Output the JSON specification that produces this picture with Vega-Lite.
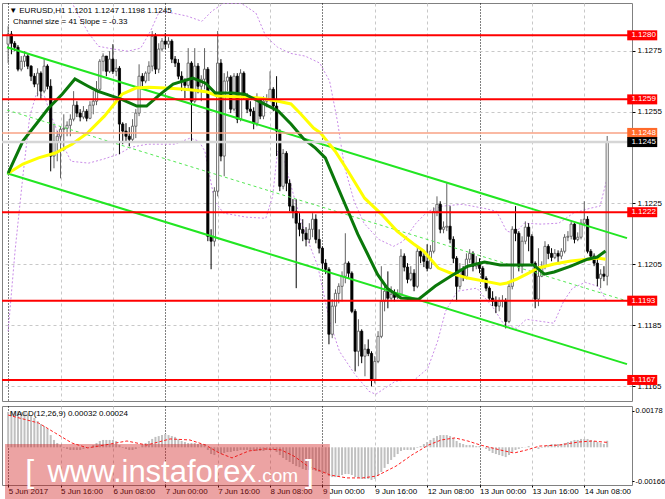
{
"$schema":"https://vega.github.io/schema/vega-lite/v6.json",
"padding":{"left":0,"top":2,"right":0,"bottom":0},
"background":"#ffffff",
"spacing":3,
"config":{"view":{"stroke":"#808080","strokeWidth":1},"font":"Liberation Sans","axis":{"labelFont":"Liberation Sans","labelFontSize":8,"labelColor":"#000000","tickColor":"#000000","domain":false,"title":null},"text":{"font":"Liberation Sans"}},
"datasets":{
"bars":[
{"i":0,"o":1.12771,"h":1.1283,"l":1.12709,"c":1.12804,"m":0.00173},
{"i":1,"o":1.12804,"h":1.12814,"l":1.12738,"c":1.12774,"m":0.00178},
{"i":2,"o":1.12774,"h":1.12781,"l":1.12748,"c":1.12761,"m":0.00178},
{"i":3,"o":1.12761,"h":1.12768,"l":1.12682,"c":1.12689,"m":0.00178},
{"i":4,"o":1.12689,"h":1.12732,"l":1.12682,"c":1.12715,"m":0.00173},
{"i":5,"o":1.12715,"h":1.12748,"l":1.12696,"c":1.12732,"m":0.00173},
{"i":6,"o":1.12732,"h":1.12738,"l":1.12689,"c":1.12699,"m":0.00168},
{"i":7,"o":1.12699,"h":1.12702,"l":1.1265,"c":1.12666,"m":0.00158},
{"i":8,"o":1.12666,"h":1.12676,"l":1.1263,"c":1.1264,"m":0.00144},
{"i":9,"o":1.1264,"h":1.12692,"l":1.126,"c":1.12676,"m":0.00129},
{"i":10,"o":1.12676,"h":1.12682,"l":1.12591,"c":1.12617,"m":0.00114},
{"i":11,"o":1.12617,"h":1.12725,"l":1.1261,"c":1.12699,"m":0.00104},
{"i":12,"o":1.12699,"h":1.12705,"l":1.12623,"c":1.12633,"m":0.0009},
{"i":13,"o":1.12633,"h":1.12656,"l":1.12354,"c":1.12404,"m":0.0006},
{"i":14,"o":1.12404,"h":1.12509,"l":1.12364,"c":1.12453,"m":0.00036},
{"i":15,"o":1.12453,"h":1.12486,"l":1.12387,"c":1.12469,"m":0.00021},
{"i":16,"o":1.12469,"h":1.12499,"l":1.12331,"c":1.12492,"m":0.00011},
{"i":17,"o":1.12492,"h":1.12541,"l":1.1242,"c":1.12495,"m":-0.00003},
{"i":18,"o":1.12495,"h":1.12518,"l":1.12469,"c":1.12505,"m":-0.00008},
{"i":19,"o":1.12505,"h":1.12541,"l":1.12469,"c":1.12525,"m":-0.00013},
{"i":20,"o":1.12525,"h":1.12617,"l":1.12518,"c":1.12571,"m":-0.00013},
{"i":21,"o":1.12571,"h":1.12584,"l":1.12532,"c":1.12545,"m":-0.00013},
{"i":22,"o":1.12545,"h":1.12558,"l":1.12518,"c":1.12532,"m":-0.00013},
{"i":23,"o":1.12532,"h":1.12568,"l":1.12525,"c":1.12551,"m":-0.00008},
{"i":24,"o":1.12551,"h":1.12558,"l":1.12518,"c":1.12528,"m":-0.00003},
{"i":25,"o":1.12528,"h":1.12584,"l":1.12525,"c":1.12571,"m":0.00001},
{"i":26,"o":1.12571,"h":1.12617,"l":1.12541,"c":1.12584,"m":0.00011},
{"i":27,"o":1.12584,"h":1.1265,"l":1.12571,"c":1.12623,"m":0.00021},
{"i":28,"o":1.12623,"h":1.12722,"l":1.1261,"c":1.12715,"m":0.00031},
{"i":29,"o":1.12715,"h":1.12741,"l":1.12682,"c":1.12732,"m":0.00036},
{"i":30,"o":1.12732,"h":1.12732,"l":1.12666,"c":1.12682,"m":0.00036},
{"i":31,"o":1.12682,"h":1.12748,"l":1.12676,"c":1.12722,"m":0.00036},
{"i":32,"o":1.12722,"h":1.12771,"l":1.12673,"c":1.12682,"m":0.00036},
{"i":33,"o":1.12682,"h":1.12722,"l":1.12666,"c":1.12692,"m":0.00031},
{"i":34,"o":1.12692,"h":1.12699,"l":1.1241,"c":1.12509,"m":0.00011},
{"i":35,"o":1.12509,"h":1.12515,"l":1.12443,"c":1.12486,"m":-0.00003},
{"i":36,"o":1.12486,"h":1.12512,"l":1.12453,"c":1.12469,"m":-0.00008},
{"i":37,"o":1.12469,"h":1.12499,"l":1.12436,"c":1.12459,"m":-0.00013},
{"i":38,"o":1.12459,"h":1.12525,"l":1.12453,"c":1.12502,"m":-0.00013},
{"i":39,"o":1.12502,"h":1.12558,"l":1.12463,"c":1.12545,"m":-0.00008},
{"i":40,"o":1.12545,"h":1.12705,"l":1.12535,"c":1.12666,"m":0.00001},
{"i":41,"o":1.12666,"h":1.12676,"l":1.12633,"c":1.1265,"m":0.00011},
{"i":42,"o":1.1265,"h":1.12682,"l":1.12643,"c":1.12676,"m":0.00021},
{"i":43,"o":1.12676,"h":1.12715,"l":1.1265,"c":1.12699,"m":0.00031},
{"i":44,"o":1.12699,"h":1.12814,"l":1.12682,"c":1.12797,"m":0.00041},
{"i":45,"o":1.12797,"h":1.12807,"l":1.12673,"c":1.12689,"m":0.00051},
{"i":46,"o":1.12689,"h":1.12774,"l":1.12676,"c":1.12755,"m":0.00055},
{"i":47,"o":1.12755,"h":1.12791,"l":1.12748,"c":1.12781,"m":0.0006},
{"i":48,"o":1.12781,"h":1.12807,"l":1.12755,"c":1.12771,"m":0.00065},
{"i":49,"o":1.12771,"h":1.12794,"l":1.12758,"c":1.12781,"m":0.0006},
{"i":50,"o":1.12781,"h":1.12787,"l":1.12709,"c":1.12722,"m":0.00055},
{"i":51,"o":1.12722,"h":1.12732,"l":1.12696,"c":1.12709,"m":0.00051},
{"i":52,"o":1.12709,"h":1.12722,"l":1.12656,"c":1.12666,"m":0.00041},
{"i":53,"o":1.12666,"h":1.12682,"l":1.12617,"c":1.1265,"m":0.00031},
{"i":54,"o":1.1265,"h":1.12659,"l":1.12594,"c":1.12636,"m":0.00026},
{"i":55,"o":1.12636,"h":1.12758,"l":1.12623,"c":1.12709,"m":0.00021},
{"i":56,"o":1.12709,"h":1.12715,"l":1.12453,"c":1.12584,"m":0.00021},
{"i":57,"o":1.12584,"h":1.12758,"l":1.12577,"c":1.12699,"m":0.00021},
{"i":58,"o":1.12699,"h":1.12709,"l":1.1261,"c":1.12633,"m":0.00016},
{"i":59,"o":1.12633,"h":1.12669,"l":1.12584,"c":1.12656,"m":0.00016},
{"i":60,"o":1.12656,"h":1.12758,"l":1.12623,"c":1.12689,"m":0.00016},
{"i":61,"o":1.12689,"h":1.12696,"l":1.12125,"c":1.12141,"m":-0.00013},
{"i":62,"o":1.12141,"h":1.12164,"l":1.12033,"c":1.12125,"m":-0.00033},
{"i":63,"o":1.12125,"h":1.12302,"l":1.12108,"c":1.12289,"m":-0.00038},
{"i":64,"o":1.12289,"h":1.12814,"l":1.12272,"c":1.12709,"m":-0.00023},
{"i":65,"o":1.12709,"h":1.12722,"l":1.12387,"c":1.12404,"m":-0.00033},
{"i":66,"o":1.12404,"h":1.12676,"l":1.12338,"c":1.1265,"m":-0.00028},
{"i":67,"o":1.1265,"h":1.12682,"l":1.12617,"c":1.12663,"m":-0.00023},
{"i":68,"o":1.12663,"h":1.12669,"l":1.12545,"c":1.12558,"m":-0.00023},
{"i":69,"o":1.12558,"h":1.12676,"l":1.12551,"c":1.12666,"m":-0.00018},
{"i":70,"o":1.12666,"h":1.12676,"l":1.12512,"c":1.12525,"m":-0.00018},
{"i":71,"o":1.12525,"h":1.12689,"l":1.12518,"c":1.12676,"m":-0.00013},
{"i":72,"o":1.12676,"h":1.12682,"l":1.12591,"c":1.126,"m":-0.00013},
{"i":73,"o":1.126,"h":1.1261,"l":1.12545,"c":1.12558,"m":-0.00013},
{"i":74,"o":1.12558,"h":1.12584,"l":1.12535,"c":1.12551,"m":-0.00013},
{"i":75,"o":1.12551,"h":1.12564,"l":1.12492,"c":1.12512,"m":-0.00018},
{"i":76,"o":1.12512,"h":1.1261,"l":1.12502,"c":1.12591,"m":-0.00018},
{"i":77,"o":1.12591,"h":1.12597,"l":1.12525,"c":1.12535,"m":-0.00018},
{"i":78,"o":1.12535,"h":1.126,"l":1.12525,"c":1.12584,"m":-0.00018},
{"i":79,"o":1.12584,"h":1.12607,"l":1.12564,"c":1.12591,"m":-0.00013},
{"i":80,"o":1.12591,"h":1.12682,"l":1.12584,"c":1.12623,"m":-0.00013},
{"i":81,"o":1.12623,"h":1.1263,"l":1.12551,"c":1.12568,"m":-0.00013},
{"i":82,"o":1.12568,"h":1.12666,"l":1.12404,"c":1.12486,"m":-0.00023},
{"i":83,"o":1.12486,"h":1.12492,"l":1.12289,"c":1.12305,"m":-0.00038},
{"i":84,"o":1.12305,"h":1.12427,"l":1.12295,"c":1.12413,"m":-0.00052},
{"i":85,"o":1.12413,"h":1.1242,"l":1.12289,"c":1.12315,"m":-0.00062},
{"i":86,"o":1.12315,"h":1.12328,"l":1.12223,"c":1.1224,"m":-0.00072},
{"i":87,"o":1.1224,"h":1.12263,"l":1.122,"c":1.12223,"m":-0.00082},
{"i":88,"o":1.12223,"h":1.12263,"l":1.11971,"c":1.12184,"m":-0.00092},
{"i":89,"o":1.12184,"h":1.12217,"l":1.12141,"c":1.12164,"m":-0.00097},
{"i":90,"o":1.12164,"h":1.12197,"l":1.12125,"c":1.12151,"m":-0.00106},
{"i":91,"o":1.12151,"h":1.12171,"l":1.12108,"c":1.12131,"m":-0.00111},
{"i":92,"o":1.12131,"h":1.12184,"l":1.12118,"c":1.12164,"m":-0.00111},
{"i":93,"o":1.12164,"h":1.12217,"l":1.12138,"c":1.12197,"m":-0.00111},
{"i":94,"o":1.12197,"h":1.12213,"l":1.12118,"c":1.12131,"m":-0.00116},
{"i":95,"o":1.12131,"h":1.12164,"l":1.12085,"c":1.12102,"m":-0.00121},
{"i":96,"o":1.12102,"h":1.12108,"l":1.12033,"c":1.12053,"m":-0.00126},
{"i":97,"o":1.12053,"h":1.12066,"l":1.12017,"c":1.12033,"m":-0.00126},
{"i":98,"o":1.12033,"h":1.1204,"l":1.11787,"c":1.1182,"m":-0.00141},
{"i":99,"o":1.1182,"h":1.11935,"l":1.11807,"c":1.11912,"m":-0.00146},
{"i":100,"o":1.11912,"h":1.11967,"l":1.11856,"c":1.11954,"m":-0.00146},
{"i":101,"o":1.11954,"h":1.11987,"l":1.11921,"c":1.11977,"m":-0.00141},
{"i":102,"o":1.11977,"h":1.12026,"l":1.11928,"c":1.1201,"m":-0.00136},
{"i":103,"o":1.1201,"h":1.12151,"l":1.11987,"c":1.12053,"m":-0.00131},
{"i":104,"o":1.12053,"h":1.12059,"l":1.12003,"c":1.1202,"m":-0.00131},
{"i":105,"o":1.1202,"h":1.12026,"l":1.11889,"c":1.11895,"m":-0.00136},
{"i":106,"o":1.11895,"h":1.11902,"l":1.11698,"c":1.11764,"m":-0.00146},
{"i":107,"o":1.11764,"h":1.11869,"l":1.11715,"c":1.1183,"m":-0.0015},
{"i":108,"o":1.1183,"h":1.11836,"l":1.11725,"c":1.11748,"m":-0.00155},
{"i":109,"o":1.11748,"h":1.11787,"l":1.11682,"c":1.11771,"m":-0.00155},
{"i":110,"o":1.11771,"h":1.11803,"l":1.11748,"c":1.11757,"m":-0.00155},
{"i":111,"o":1.11757,"h":1.11764,"l":1.11649,"c":1.11672,"m":-0.0016},
{"i":112,"o":1.11672,"h":1.11748,"l":1.11659,"c":1.11731,"m":-0.00155},
{"i":113,"o":1.11731,"h":1.1183,"l":1.11725,"c":1.11813,"m":-0.00141},
{"i":114,"o":1.11813,"h":1.12043,"l":1.11807,"c":1.11928,"m":-0.00121},
{"i":115,"o":1.11928,"h":1.11984,"l":1.11895,"c":1.11961,"m":-0.00101},
{"i":116,"o":1.11961,"h":1.12026,"l":1.11905,"c":1.11938,"m":-0.00082},
{"i":117,"o":1.11938,"h":1.11977,"l":1.11928,"c":1.11951,"m":-0.00062},
{"i":118,"o":1.11951,"h":1.11967,"l":1.11928,"c":1.11941,"m":-0.00048},
{"i":119,"o":1.11941,"h":1.11967,"l":1.11935,"c":1.11951,"m":-0.00033},
{"i":120,"o":1.11951,"h":1.12099,"l":1.11944,"c":1.12076,"m":-0.00018},
{"i":121,"o":1.12076,"h":1.12085,"l":1.12026,"c":1.1204,"m":-0.00013},
{"i":122,"o":1.1204,"h":1.12053,"l":1.11987,"c":1.12,"m":-0.00013},
{"i":123,"o":1.12,"h":1.12043,"l":1.11994,"c":1.1202,"m":-0.00013},
{"i":124,"o":1.1202,"h":1.12033,"l":1.11961,"c":1.11977,"m":-0.00013},
{"i":125,"o":1.11977,"h":1.12108,"l":1.11971,"c":1.12092,"m":-0.00003},
{"i":126,"o":1.12092,"h":1.12102,"l":1.12053,"c":1.12076,"m":0.00006},
{"i":127,"o":1.12076,"h":1.12085,"l":1.1204,"c":1.12059,"m":0.00016},
{"i":128,"o":1.12059,"h":1.12115,"l":1.12026,"c":1.12036,"m":0.00026},
{"i":129,"o":1.12036,"h":1.12112,"l":1.12033,"c":1.12092,"m":0.00036},
{"i":130,"o":1.12092,"h":1.12236,"l":1.12085,"c":1.12223,"m":0.00046},
{"i":131,"o":1.12223,"h":1.12272,"l":1.12207,"c":1.12246,"m":0.00055},
{"i":132,"o":1.12246,"h":1.12256,"l":1.12151,"c":1.12164,"m":0.0006},
{"i":133,"o":1.12164,"h":1.1219,"l":1.12151,"c":1.12171,"m":0.0006},
{"i":134,"o":1.12171,"h":1.12315,"l":1.12158,"c":1.12174,"m":0.0006},
{"i":135,"o":1.12174,"h":1.1224,"l":1.12118,"c":1.12131,"m":0.00055},
{"i":136,"o":1.12131,"h":1.12141,"l":1.12053,"c":1.12069,"m":0.00046},
{"i":137,"o":1.12069,"h":1.12076,"l":1.11928,"c":1.11977,"m":0.00031},
{"i":138,"o":1.11977,"h":1.12053,"l":1.11967,"c":1.12033,"m":0.00021},
{"i":139,"o":1.12033,"h":1.12043,"l":1.11994,"c":1.1201,"m":0.00016},
{"i":140,"o":1.1201,"h":1.12085,"l":1.12,"c":1.12066,"m":0.00011},
{"i":141,"o":1.12066,"h":1.12099,"l":1.12053,"c":1.12085,"m":0.00011},
{"i":142,"o":1.12085,"h":1.12092,"l":1.12026,"c":1.12043,"m":0.00011},
{"i":143,"o":1.12043,"h":1.12076,"l":1.12033,"c":1.12053,"m":0.00006},
{"i":144,"o":1.12053,"h":1.12069,"l":1.1202,"c":1.12036,"m":0.00006},
{"i":145,"o":1.12036,"h":1.12043,"l":1.11994,"c":1.12003,"m":0.00001},
{"i":146,"o":1.12003,"h":1.1201,"l":1.11961,"c":1.11971,"m":-0.00008},
{"i":147,"o":1.11971,"h":1.11977,"l":1.11928,"c":1.11938,"m":-0.00018},
{"i":148,"o":1.11938,"h":1.11961,"l":1.11912,"c":1.11928,"m":-0.00028},
{"i":149,"o":1.11928,"h":1.11944,"l":1.11889,"c":1.11912,"m":-0.00033},
{"i":150,"o":1.11912,"h":1.11941,"l":1.11895,"c":1.11928,"m":-0.00038},
{"i":151,"o":1.11928,"h":1.11948,"l":1.11908,"c":1.11931,"m":-0.00043},
{"i":152,"o":1.11931,"h":1.11938,"l":1.11839,"c":1.11862,"m":-0.00048},
{"i":153,"o":1.11862,"h":1.11994,"l":1.11856,"c":1.11977,"m":-0.00038},
{"i":154,"o":1.11977,"h":1.12174,"l":1.11967,"c":1.12164,"m":-0.00023},
{"i":155,"o":1.12164,"h":1.1224,"l":1.12125,"c":1.12151,"m":-0.00013},
{"i":156,"o":1.12151,"h":1.12158,"l":1.12026,"c":1.12043,"m":-0.00008},
{"i":157,"o":1.12043,"h":1.12141,"l":1.1202,"c":1.12125,"m":-0.00003},
{"i":158,"o":1.12125,"h":1.1219,"l":1.12115,"c":1.12171,"m":0.00001},
{"i":159,"o":1.12171,"h":1.12184,"l":1.12092,"c":1.12141,"m":0.00006},
{"i":160,"o":1.12141,"h":1.12148,"l":1.12043,"c":1.12053,"m":0.00001},
{"i":161,"o":1.12053,"h":1.12059,"l":1.11905,"c":1.11935,"m":-0.00003},
{"i":162,"o":1.11935,"h":1.12102,"l":1.11912,"c":1.1201,"m":-0.00008},
{"i":163,"o":1.1201,"h":1.12059,"l":1.12007,"c":1.12043,"m":-0.00003},
{"i":164,"o":1.12043,"h":1.12125,"l":1.12033,"c":1.12108,"m":0.00006},
{"i":165,"o":1.12108,"h":1.12115,"l":1.12066,"c":1.12085,"m":0.00011},
{"i":166,"o":1.12085,"h":1.12102,"l":1.12059,"c":1.12072,"m":0.00016},
{"i":167,"o":1.12072,"h":1.12099,"l":1.12066,"c":1.12085,"m":0.00016},
{"i":168,"o":1.12085,"h":1.12095,"l":1.12056,"c":1.12076,"m":0.00016},
{"i":169,"o":1.12076,"h":1.12102,"l":1.12066,"c":1.12092,"m":0.00016},
{"i":170,"o":1.12092,"h":1.12148,"l":1.12085,"c":1.12138,"m":0.00021},
{"i":171,"o":1.12138,"h":1.12158,"l":1.12125,"c":1.12141,"m":0.00026},
{"i":172,"o":1.12141,"h":1.1219,"l":1.12131,"c":1.12181,"m":0.00031},
{"i":173,"o":1.12181,"h":1.12184,"l":1.12118,"c":1.12131,"m":0.00036},
{"i":174,"o":1.12131,"h":1.12154,"l":1.12125,"c":1.12138,"m":0.00036},
{"i":175,"o":1.12138,"h":1.12197,"l":1.12131,"c":1.12184,"m":0.00041},
{"i":176,"o":1.12184,"h":1.12256,"l":1.12174,"c":1.12197,"m":0.00041},
{"i":177,"o":1.12197,"h":1.12207,"l":1.12085,"c":1.12092,"m":0.00041},
{"i":178,"o":1.12092,"h":1.12099,"l":1.12066,"c":1.12076,"m":0.00036},
{"i":179,"o":1.12076,"h":1.12085,"l":1.12043,"c":1.12053,"m":0.00031},
{"i":180,"o":1.12053,"h":1.12066,"l":1.11977,"c":1.12003,"m":0.00026},
{"i":181,"o":1.12003,"h":1.12033,"l":1.11971,"c":1.12017,"m":0.00021},
{"i":182,"o":1.12017,"h":1.12043,"l":1.11994,"c":1.1201,"m":0.00016},
{"i":183,"o":1.1201,"h":1.1247,"l":1.1198,"c":1.1245,"m":0.00032}
],
"ma":[
{"k":"y","i":0,"p":1.12348},{"k":"y","i":4.5,"p":1.12378},{"k":"y","i":9.3,"p":1.12398},{"k":"y","i":14.4,"p":1.12414},{"k":"y","i":19.5,"p":1.12443},{"k":"y","i":24.3,"p":1.1248},{"k":"y","i":29.4,"p":1.12535},{"k":"y","i":34.8,"p":1.12607},{"k":"y","i":39,"p":1.12627},{"k":"y","i":42.9,"p":1.1263},{"k":"y","i":48,"p":1.12627},{"k":"y","i":52.8,"p":1.12624},{"k":"y","i":57,"p":1.1262},{"k":"y","i":60.9,"p":1.12614},{"k":"y","i":63.9,"p":1.12601},{"k":"y","i":72.3,"p":1.12598},{"k":"y","i":77.4,"p":1.12594},{"k":"y","i":82.5,"p":1.12584},{"k":"y","i":86.4,"p":1.12575},{"k":"y","i":89.4,"p":1.12542},{"k":"y","i":93.3,"p":1.12496},{"k":"y","i":95.4,"p":1.1248},{"k":"y","i":99.9,"p":1.1242},{"k":"y","i":103.8,"p":1.12355},{"k":"y","i":108.9,"p":1.12266},{"k":"y","i":114,"p":1.12214},{"k":"y","i":118.8,"p":1.12158},{"k":"y","i":123.9,"p":1.12116},{"k":"y","i":126.9,"p":1.12093},{"k":"y","i":131.4,"p":1.12037},{"k":"y","i":135.3,"p":1.1202},{"k":"y","i":140.4,"p":1.12004},{"k":"y","i":145.5,"p":1.11994},{"k":"y","i":150.3,"p":1.11984},{"k":"y","i":152.4,"p":1.11988},{"k":"y","i":155.4,"p":1.12001},{"k":"y","i":158.4,"p":1.12017},{"k":"y","i":162,"p":1.12037},{"k":"y","i":166.8,"p":1.1205},{"k":"y","i":171.9,"p":1.1206},{"k":"y","i":177,"p":1.12066},{"k":"y","i":180,"p":1.1207},{"k":"y","i":182.5,"p":1.12066},
{"k":"g","i":0,"p":1.12348},{"k":"g","i":4.5,"p":1.12453},{"k":"g","i":9.3,"p":1.12519},{"k":"g","i":12.3,"p":1.12561},{"k":"g","i":16.5,"p":1.12607},{"k":"g","i":20.4,"p":1.12657},{"k":"g","i":24.3,"p":1.12634},{"k":"g","i":27.3,"p":1.12617},{"k":"g","i":34.5,"p":1.12591},{"k":"g","i":39.3,"p":1.12568},{"k":"g","i":42.3,"p":1.12568},{"k":"g","i":46.5,"p":1.12607},{"k":"g","i":50.4,"p":1.1264},{"k":"g","i":56.4,"p":1.1266},{"k":"g","i":60.3,"p":1.12643},{"k":"g","i":63.3,"p":1.12611},{"k":"g","i":68.4,"p":1.12611},{"k":"g","i":72.3,"p":1.12607},{"k":"g","i":76.5,"p":1.12584},{"k":"g","i":82.5,"p":1.12552},{"k":"g","i":86.4,"p":1.12509},{"k":"g","i":90.3,"p":1.1246},{"k":"g","i":93.9,"p":1.1243},{"k":"g","i":96.9,"p":1.12398},{"k":"g","i":99.9,"p":1.12322},{"k":"g","i":103.8,"p":1.12224},{"k":"g","i":106.8,"p":1.12148},{"k":"g","i":109.8,"p":1.12083},{"k":"g","i":112.8,"p":1.12017},{"k":"g","i":115.8,"p":1.11971},{"k":"g","i":120,"p":1.11939},{"k":"g","i":125.4,"p":1.11935},{"k":"g","i":130.5,"p":1.11978},{"k":"g","i":135.3,"p":1.12011},{"k":"g","i":140.4,"p":1.12043},{"k":"g","i":145.5,"p":1.12057},{"k":"g","i":150.3,"p":1.12047},{"k":"g","i":155.4,"p":1.12047},{"k":"g","i":160.5,"p":1.12047},{"k":"g","i":163.8,"p":1.12017},{"k":"g","i":166.8,"p":1.12024},{"k":"g","i":171.9,"p":1.12043},{"k":"g","i":177,"p":1.12066},{"k":"g","i":180,"p":1.12073},{"k":"g","i":182.5,"p":1.12093}
],
"bands":[
{"b":"u","i":17.7,"p":1.12945},{"b":"u","i":21.6,"p":1.12863},{"b":"u","i":24.6,"p":1.12807},{"b":"u","i":27.6,"p":1.12764},{"b":"u","i":32.1,"p":1.12755},{"b":"u","i":36.6,"p":1.12748},{"b":"u","i":40.5,"p":1.12758},{"b":"u","i":43.5,"p":1.12814},{"b":"u","i":46.2,"p":1.12879},{"b":"u","i":50.2,"p":1.12873},{"b":"u","i":54.7,"p":1.12863},{"b":"u","i":59.2,"p":1.12846},{"b":"u","i":62.2,"p":1.12879},{"b":"u","i":65.8,"p":1.12905},{"b":"u","i":71.2,"p":1.12905},{"b":"u","i":75.7,"p":1.12873},{"b":"u","i":78.7,"p":1.12797},{"b":"u","i":82.3,"p":1.12761},{"b":"u","i":86.2,"p":1.12741},{"b":"u","i":90.7,"p":1.12732},{"b":"u","i":95.2,"p":1.12709},{"b":"u","i":98.2,"p":1.1265},{"b":"u","i":100.6,"p":1.12518},{"b":"u","i":102.7,"p":1.12371},{"b":"u","i":105.7,"p":1.12256},{"b":"u","i":108.7,"p":1.12184},{"b":"u","i":113.2,"p":1.12131},{"b":"u","i":117.7,"p":1.12108},{"b":"u","i":120.7,"p":1.12125},{"b":"u","i":124.6,"p":1.12184},{"b":"u","i":128.2,"p":1.12223},{"b":"u","i":132.7,"p":1.1224},{"b":"u","i":138.7,"p":1.12246},{"b":"u","i":145.3,"p":1.12233},{"b":"u","i":149.2,"p":1.12223},{"b":"u","i":152.3,"p":1.12158},{"b":"u","i":154.7,"p":1.12151},{"b":"u","i":157.7,"p":1.12184},{"b":"u","i":162.8,"p":1.12181},{"b":"u","i":168.2,"p":1.12184},{"b":"u","i":172.7,"p":1.12217},{"b":"u","i":177.8,"p":1.12233},{"b":"u","i":180.8,"p":1.1224},{"b":"u","i":182.9,"p":1.12328},
{"b":"l","i":0,"p":1.1183},{"b":"l","i":2.1,"p":1.12092},{"b":"l","i":4.5,"p":1.12338},{"b":"l","i":6.6,"p":1.12535},{"b":"l","i":8.7,"p":1.1261},{"b":"l","i":11.1,"p":1.126},{"b":"l","i":13.2,"p":1.12535},{"b":"l","i":16.2,"p":1.12453},{"b":"l","i":19.2,"p":1.12387},{"b":"l","i":24.6,"p":1.12381},{"b":"l","i":29.1,"p":1.12394},{"b":"l","i":33.6,"p":1.1241},{"b":"l","i":37.5,"p":1.12433},{"b":"l","i":42.6,"p":1.12443},{"b":"l","i":50.8,"p":1.12443},{"b":"l","i":55.6,"p":1.12463},{"b":"l","i":58.3,"p":1.12453},{"b":"l","i":60.1,"p":1.1242},{"b":"l","i":61.6,"p":1.12338},{"b":"l","i":63.1,"p":1.12256},{"b":"l","i":65.8,"p":1.12217},{"b":"l","i":72.7,"p":1.12204},{"b":"l","i":78.7,"p":1.122},{"b":"l","i":80.8,"p":1.12272},{"b":"l","i":82.3,"p":1.1242},{"b":"l","i":84.4,"p":1.12387},{"b":"l","i":87.7,"p":1.12256},{"b":"l","i":90.7,"p":1.12151},{"b":"l","i":94.6,"p":1.12043},{"b":"l","i":98.2,"p":1.11862},{"b":"l","i":101.2,"p":1.11764},{"b":"l","i":105.7,"p":1.11692},{"b":"l","i":110.2,"p":1.11633},{"b":"l","i":112.3,"p":1.11623},{"b":"l","i":118.3,"p":1.11666},{"b":"l","i":124.3,"p":1.11672},{"b":"l","i":128.2,"p":1.11708},{"b":"l","i":131.2,"p":1.11797},{"b":"l","i":133.6,"p":1.11895},{"b":"l","i":137.2,"p":1.11961},{"b":"l","i":143.2,"p":1.11971},{"b":"l","i":148.3,"p":1.11905},{"b":"l","i":151.4,"p":1.11853},{"b":"l","i":155.3,"p":1.11839},{"b":"l","i":158.3,"p":1.11869},{"b":"l","i":162.8,"p":1.11862},{"b":"l","i":166.7,"p":1.11856},{"b":"l","i":169.7,"p":1.11928},{"b":"l","i":172.4,"p":1.11971},{"b":"l","i":176.3,"p":1.1199},{"b":"l","i":180.2,"p":1.11977},{"b":"l","i":182.9,"p":1.11928}
],
"channel":[
{"ln":"up","i":-0.35,"p":1.12761},{"ln":"up","i":189.05,"p":1.12135},
{"ln":"lo","i":-0.35,"p":1.12348},{"ln":"lo","i":189.05,"p":1.11722},
{"ln":"mid","i":-0.35,"p":1.12555},{"ln":"mid","i":189.05,"p":1.11929}
],
"levels":[
{"p":1.128,"t":"1.1280","k":"r"},{"p":1.1259,"t":"1.1259","k":"r"},{"p":1.1222,"t":"1.1222","k":"r"},{"p":1.1193,"t":"1.1193","k":"r"},{"p":1.1167,"t":"1.1167","k":"r"},{"p":1.1248,"t":"1.1248","k":"o"},{"p":1.1245,"t":"1.1245","k":"b"}
],
"signal":[
{"i":0,"s":0.00158},{"i":9.3,"s":0.00119},{"i":14.4,"s":0.0007},{"i":19.5,"s":0.00021},{"i":24.3,"s":-0.00003},{"i":29.4,"s":0.00011},{"i":36.3,"s":0.00031},{"i":42.3,"s":0.00011},{"i":49.5,"s":0.00041},{"i":55.5,"s":0.00036},{"i":60.3,"s":0.00011},{"i":64.5,"s":-0.00028},{"i":68.4,"s":-0.00052},{"i":73.5,"s":-0.00018},{"i":78.3,"s":-0.00008},{"i":83.4,"s":-0.00013},{"i":87.3,"s":-0.00043},{"i":91.5,"s":-0.00092},{"i":95.4,"s":-0.00116},{"i":98.4,"s":-0.00136},{"i":103.5,"s":-0.0015},{"i":108.3,"s":-0.0015},{"i":112.5,"s":-0.00141},{"i":118.5,"s":-0.00092},{"i":123.3,"s":-0.00038},{"i":128.4,"s":0.00011},{"i":132.3,"s":0.00036},{"i":136.5,"s":0.00046},{"i":140.4,"s":0.00031},{"i":144.3,"s":0.00011},{"i":150.3,"s":-0.00013},{"i":154.5,"s":-0.00028},{"i":158.4,"s":-0.00013},{"i":162.3,"s":0.00006},{"i":168.3,"s":0.00011},{"i":174.3,"s":0.00026},{"i":178.5,"s":0.00031},{"i":183,"s":0.00024}
]
},
"vconcat":[
{
"width":630,"height":398,
"layer":[
{"data":{"name":"bands"},"mark":{"type":"line","clip":true,"strokeDash":[2,2],"strokeWidth":1,"color":"#c98be8"},
 "encoding":{
  "x":{"field":"i","type":"quantitative","scale":{"domain":[-0.35,189.05],"nice":false,"zero":false},
   "axis":{"orient":"bottom","values":[0,8,16,24,32,40,48,56,64,72,80,88,96,104,112,120,128,136,144,152,160,168,176,184],"labels":false,"ticks":false,"domain":false,"grid":true,"gridColor":{"condition":{"test":"datum.value % 24 === 0","value":"#000000"},"value":"#c8c8c8"},"gridDash":{"condition":{"test":"datum.value % 24 === 0","value":[1,2]},"value":[3,3]},"minExtent":0,"maxExtent":0,"title":null}},
  "y":{"field":"p","type":"quantitative","scale":{"domain":[1.11601,1.12906],"nice":false,"zero":false},
   "axis":{"orient":"right","values":[1.1165,1.1175,1.1185,1.1195,1.1205,1.1215,1.1225,1.1235,1.1255,1.1265,1.1275,1.1285],"format":".4f","grid":true,"gridColor":"#c8c8c8","gridDash":[3,3],"tickSize":3,"labelPadding":2,"labelBaseline":"middle","title":null}},
  "detail":{"field":"b","type":"nominal"}}},
{"data":{"name":"bars"},"mark":{"type":"rule","clip":true,"strokeWidth":1},
 "encoding":{"x":{"field":"i","type":"quantitative"},"y":{"field":"l","type":"quantitative"},"y2":{"field":"h"},
  "color":{"condition":{"test":"datum.c >= datum.o","value":"#606060"},"value":"#000000"}}},
{"data":{"name":"bars"},"mark":{"type":"bar","clip":true,"width":2.2,"strokeWidth":0.8},
 "encoding":{"x":{"field":"i","type":"quantitative"},"y":{"field":"o","type":"quantitative"},"y2":{"field":"c"},
  "fill":{"condition":{"test":"datum.c >= datum.o","value":"#ffffff"},"value":"#000000"},
  "stroke":{"condition":{"test":"datum.c >= datum.o","value":"#505050"},"value":"#000000"}}},
{"data":{"name":"channel"},"transform":[{"filter":"datum.ln === 'mid'"}],"mark":{"type":"line","clip":true,"strokeWidth":1,"strokeDash":[3,3],"color":"#55e855"},
 "encoding":{"x":{"field":"i","type":"quantitative"},"y":{"field":"p","type":"quantitative"}}},
{"data":{"name":"channel"},"transform":[{"filter":"datum.ln !== 'mid'"}],"mark":{"type":"line","clip":true,"strokeWidth":2,"color":"#22e622"},
 "encoding":{"x":{"field":"i","type":"quantitative"},"y":{"field":"p","type":"quantitative"},"detail":{"field":"ln","type":"nominal"}}},
{"data":{"name":"ma"},"transform":[{"filter":"datum.k === 'y'"}],"mark":{"type":"line","clip":true,"strokeWidth":3,"color":"#ffff00"},
 "encoding":{"x":{"field":"i","type":"quantitative"},"y":{"field":"p","type":"quantitative"}}},
{"data":{"name":"ma"},"transform":[{"filter":"datum.k === 'g'"}],"mark":{"type":"line","clip":true,"strokeWidth":3,"color":"#0a780a"},
 "encoding":{"x":{"field":"i","type":"quantitative"},"y":{"field":"p","type":"quantitative"}}},
{"data":{"name":"levels"},"transform":[{"filter":"datum.k === 'b'"}],"mark":{"type":"rule","strokeWidth":2.5,"color":"#d6d6d6"},
 "encoding":{"y":{"field":"p","type":"quantitative"}}},
{"data":{"name":"levels"},"transform":[{"filter":"datum.k === 'o'"}],"mark":{"type":"rule","strokeWidth":1.5,"color":"#f8a285"},
 "encoding":{"y":{"field":"p","type":"quantitative"}}},
{"data":{"name":"levels"},"transform":[{"filter":"datum.k === 'r'"}],"mark":{"type":"rule","strokeWidth":2,"color":"#ff0000"},
 "encoding":{"y":{"field":"p","type":"quantitative"}}},
{"data":{"name":"levels"},"mark":{"type":"tick","orient":"horizontal","size":30,"thickness":10,"clip":false,"opacity":1},
 "encoding":{"x":{"datum":193.7,"type":"quantitative"},"y":{"field":"p","type":"quantitative"},
  "color":{"field":"k","type":"nominal","scale":{"domain":["r","o","b"],"range":["#ff0000","#ff6a2b","#000000"]},"legend":null}}},
{"data":{"name":"levels"},"mark":{"type":"text","align":"left","baseline":"middle","fontSize":8,"color":"#ffffff","clip":false},
 "encoding":{"x":{"datum":190.4,"type":"quantitative"},"y":{"field":"p","type":"quantitative"},"text":{"field":"t"}}},
{"data":{"values":[{"t":"▼ EURUSD,H1  1.1201 1.1247 1.1198 1.1245"}]},"mark":{"type":"text","align":"left","baseline":"alphabetic","fontSize":8,"color":"#000000"},
 "encoding":{"x":{"datum":0.3,"type":"quantitative"},"y":{"datum":1.12874,"type":"quantitative"},"text":{"field":"t"}}},
{"data":{"values":[{"t":"Channel size = 41  Slope = -0.33"}]},"mark":{"type":"text","align":"left","baseline":"alphabetic","fontSize":8,"color":"#000000"},
 "encoding":{"x":{"datum":1.5,"type":"quantitative"},"y":{"datum":1.12838,"type":"quantitative"},"text":{"field":"t"}}}
]
},
{
"width":630,"height":79,
"layer":[
{"data":{"name":"bars"},"mark":{"type":"bar","width":2,"color":"#c0c0c0"},
 "encoding":{
  "x":{"field":"i","type":"quantitative","scale":{"domain":[-0.35,189.05],"nice":false,"zero":false},
   "axis":{"orient":"bottom","values":[0,8,16,24,32,40,48,56,64,72,80,88,96,104,112,120,128,136,144,152,160,168,176,184],
    "labelExpr":"datum.value % 16 === 0 ? ['5 Jun 2017','5 Jun 16:00','6 Jun 08:00','7 Jun 00:00','7 Jun 16:00','8 Jun 08:00','9 Jun 00:00','9 Jun 16:00','12 Jun 08:00','13 Jun 00:00','13 Jun 16:00','14 Jun 08:00'][datum.value/16] : ''",
    "labelAlign":"left","labelBaseline":"top","labelPadding":0,"labelOverlap":false,"labelFlush":false,"labelBound":false,
    "tickSize":2,"tickOpacity":{"condition":{"test":"datum.value % 16 === 0","value":1},"value":0},
    "domain":false,"grid":true,"gridColor":{"condition":{"test":"datum.value % 24 === 0","value":"#000000"},"value":"#c8c8c8"},"gridDash":{"condition":{"test":"datum.value % 24 === 0","value":[1,2]},"value":[3,3]},"title":null}},
  "y":{"field":"m","type":"quantitative","scale":{"domain":[-0.001847,0.002024],"nice":false,"zero":false},
   "axis":{"orient":"right","values":[0.00178,0,-0.00166],"labelExpr":"datum.value === 0 ? '0.00' : (datum.value > 0 ? '0.00178' : '-0.00166')","labelFontSize":7.5,"grid":true,"gridColor":{"condition":{"test":"datum.value === 0","value":"#b8b8b8"},"value":"transparent"},"gridDash":[3,3],"tickSize":2,"labelPadding":1,"labelBaseline":"middle","title":null}},
  "y2":{"datum":0}}},
{"data":{"name":"signal"},"mark":{"type":"line","strokeWidth":1,"strokeDash":[3,2],"color":"#ff2020"},
 "encoding":{"x":{"field":"i","type":"quantitative"},"y":{"field":"s","type":"quantitative"}}},
{"data":{"values":[{"t":"MACD(12,26,9) 0.00032 0.00024"}]},"mark":{"type":"text","align":"left","baseline":"alphabetic","fontSize":8,"color":"#000000"},
 "encoding":{"x":{"datum":0.6,"type":"quantitative"},"y":{"datum":0.00151,"type":"quantitative"},"text":{"field":"t"}}},
{"data":{"values":[{"a":1}]},"mark":{"type":"rect","color":"#d01818","opacity":0.4,"clip":false},
 "encoding":{"x":{"datum":-0.95,"type":"quantitative"},"x2":{"datum":98.27},"y":{"datum":0.00016,"type":"quantitative"},"y2":{"datum":-0.00268}}},
{"data":{"values":[{"t":"["}]},"mark":{"type":"text","align":"left","baseline":"alphabetic","fontSize":32,"color":"#ffffff","clip":false},
 "encoding":{"x":{"datum":5.2,"type":"quantitative"},"y":{"datum":-0.00172,"type":"quantitative"},"text":{"field":"t"}}},
{"data":{"values":[{"t":"]"}]},"mark":{"type":"text","align":"left","baseline":"alphabetic","fontSize":32,"color":"#ffffff","clip":false},
 "encoding":{"x":{"datum":90.7,"type":"quantitative"},"y":{"datum":-0.00172,"type":"quantitative"},"text":{"field":"t"}}},
{"data":{"values":[{"t":"www.instaforex"}]},"mark":{"type":"text","align":"left","baseline":"alphabetic","fontSize":31,"color":"#ffffff","clip":false},
 "encoding":{"x":{"datum":12.0,"type":"quantitative"},"y":{"datum":-0.00172,"type":"quantitative"},"text":{"field":"t"}}},
{"data":{"values":[{"t":".com"}]},"mark":{"type":"text","align":"left","baseline":"alphabetic","fontSize":19,"color":"#ffffff","clip":false},
 "encoding":{"x":{"datum":76.0,"type":"quantitative"},"y":{"datum":-0.00172,"type":"quantitative"},"text":{"field":"t"}}}
]
}
]
}
